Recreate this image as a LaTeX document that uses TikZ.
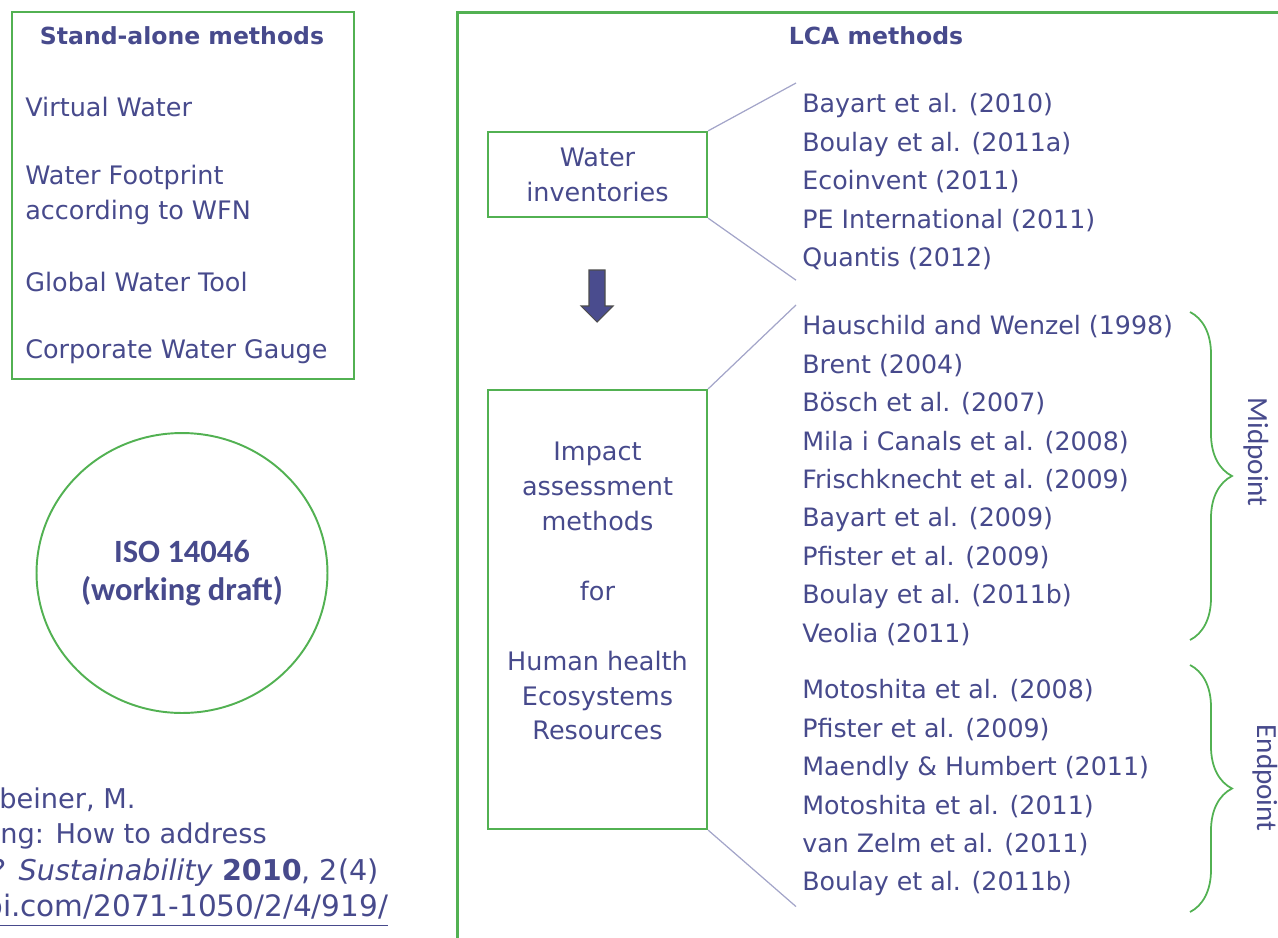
\documentclass[tikz,border=0pt]{standalone}
\usepackage{fontspec}
\setmainfont{DejaVu Sans}
\newfontfamily\calibri{Carlito}
\usetikzlibrary{decorations.pathreplacing,shapes.geometric,positioning}
\definecolor{inkblue}{HTML}{474A8C}
\definecolor{boxgreen}{HTML}{52B152}
\definecolor{leadgrey}{HTML}{A3A5C9}
\definecolor{arrowfill}{HTML}{4A4C8E}

\begin{document}
\begin{tikzpicture}[
        x=0.02cm, y=-0.02cm,
        panel/.style={draw=boxgreen, line width=1.3pt, inner sep=0pt},
        body/.style={text=inkblue, inner sep=0pt, font=\fontsize{14.5}{19.9}\selectfont},
        heading/.style={text=inkblue, inner sep=0pt, font=\fontsize{13.4}{16}\selectfont\bfseries},
        reflist/.style={body, align=left, anchor=north west, inner xsep=0.12cm, inner ysep=0.2cm,
            font=\fontsize{14.4}{21.9}\selectfont},
        citation/.style={body, anchor=west, font=\fontsize{15.5}{18}\selectfont},
        lead/.style={draw=leadgrey, line width=0.7pt},
        scopebrace/.style={draw=boxgreen, line width=1pt, decorate, decoration={brace, amplitude=0.84cm}},
        level/.style={text=inkblue, inner sep=0pt, rotate=-90, font=\calibri\fontsize{16.6}{20}\selectfont}
    ]
        \useasboundingbox (0,0) rectangle (1278,937);
        \clip (0,0) rectangle (1278,937);

        % stand-alone methods
        \node[panel, anchor=north west, minimum width=6.84cm, minimum height=7.34cm, line width=1.4pt] (standalone) at (11,11) {};
        \node[heading] (standalonetitle) at (182,36) {Stand-alone methods};
        \node[body, anchor=west] (virtualwater) at (25,107) {Virtual Water};
        \node[body, anchor=west, align=left] (footprint) at (25,194.5) {Water Footprint\\according to WFN};
        \node[body, anchor=west] (globaltool) at (25,282) {Global Water Tool};
        \node[body, anchor=west] (gauge) at (25,352) {Corporate Water Gauge};

        \node[panel, ellipse, minimum width=5.82cm, minimum height=5.6cm, line width=1.1pt, align=center,
            text=inkblue, font=\calibri\bfseries\fontsize{18.5}{22}\selectfont] (iso) at (182,573) {ISO 14046\\(working draft)};

        % cut-off reference
        \node[citation] (citeauthors) at (-1,800) {beiner, M.};
        \node[citation] (citetitle) at (0,836) {ng: How to address};
        \node[citation, font=\fontsize{16.3}{18}\selectfont] (citejournal) at (-9,873) {? \textit{Sustainability} \textbf{2010}, 2(4)};
        \node[citation, font=\fontsize{16.8}{18}\selectfont] (citelink) at (-16,910) {\underline{pi.com/2071-1050/2/4/919/}};

        % LCA methods
        \node[panel, anchor=north west, minimum width=17cm, minimum height=19cm, line width=1.5pt] (lcaframe) at (456,11) {};
        \node[heading] (lcatitle) at (876,36) {LCA methods};

        \node[panel, body, minimum width=4.38cm, minimum height=1.7cm, align=center] (inventory) at (597.5,174.5) {Water\\inventories};
        \node[panel, minimum width=4.38cm, minimum height=8.78cm] (impact) at (597.5,609.5) {};
        \node[body, align=center] (impacttext) at (597.5,591) {Impact\\assessment\\methods\\[19.9pt]for\\[19.9pt]Human health\\Ecosystems\\Resources};

        \draw[draw=black!70, fill=arrowfill, line width=0.6pt]
            (589,270) -- (605,270) -- (605,306) -- (613,306) -- (597,322) -- (581,306) -- (589,306) -- cycle;

        \node[reflist] (inventorylist) at (796,83) {Bayart et al. (2010)\\Boulay et al. (2011a)\\Ecoinvent (2011)\\PE International (2011)\\Quantis (2012)};
        \node[reflist] (midpointlist) at (796,305) {Hauschild and Wenzel (1998)\\Brent (2004)\\Bösch et al. (2007)\\Mila i Canals et al. (2008)\\Frischknecht et al. (2009)\\Bayart et al. (2009)\\Pfister et al. (2009)\\Boulay et al. (2011b)\\Veolia (2011)};
        \node[reflist] (endpointlist) at (796,669) {Motoshita et al. (2008)\\Pfister et al. (2009)\\Maendly \& Humbert (2011)\\Motoshita et al. (2011)\\van Zelm et al. (2011)\\Boulay et al. (2011b)};

        \draw[lead] (inventory.north east) -- (inventorylist.north west);
        \draw[lead] (inventory.south east) -- (inventorylist.south west);
        \draw[lead] (impact.north east) -- (midpointlist.north west);
        \draw[lead] (impact.south east) -- (endpointlist.south west);

        \draw[scopebrace] (1190,312) -- (1190,640);
        \draw[scopebrace] (1190,665) -- (1190,912);
        \node[level] (midpointlabel) at (1256,452) {Midpoint};
        \node[level] (endpointlabel) at (1265,778) {Endpoint};
    \end{tikzpicture}
\end{document}
